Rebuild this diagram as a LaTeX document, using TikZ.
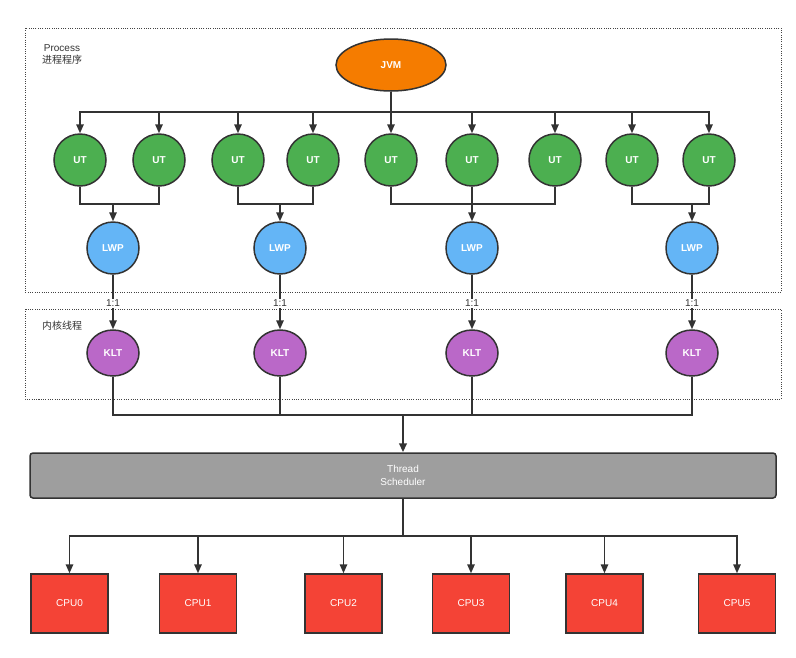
\documentclass[tikz,border=0pt]{standalone}
\usepackage{fontspec}
\setmainfont{Liberation Sans}
\newfontfamily\cjk{Noto Sans CJK SC}
\usetikzlibrary{shapes.geometric,arrows.meta}
\definecolor{ln}{HTML}{333333}
\definecolor{utgreen}{HTML}{4CAF50}
\definecolor{lwpblue}{HTML}{64B5F6}
\definecolor{kltpurple}{HTML}{BA68C8}
\definecolor{jvmorange}{HTML}{F57C00}
\definecolor{cpured}{HTML}{F44336}
\definecolor{schedgray}{HTML}{9E9E9E}
\definecolor{boxline}{HTML}{444444}
\begin{document}
\begin{tikzpicture}[x=1pt,y=-1pt,
  nodefont/.style={font=\bfseries\fontsize{10}{12}\selectfont},
  utnode/.style={circle, draw=ln, line width=1.5pt, fill=utgreen, minimum size=52pt, inner sep=0pt, text=white, nodefont},
  lwpnode/.style={circle, draw=ln, line width=1.5pt, fill=lwpblue, minimum size=52pt, inner sep=0pt, text=white, nodefont},
  kltnode/.style={ellipse, draw=ln, line width=1.5pt, fill=kltpurple, minimum width=52pt, minimum height=46pt, inner sep=0pt, text=white, nodefont},
  jvmnode/.style={ellipse, draw=ln, line width=1.5pt, fill=jvmorange, minimum width=110pt, minimum height=52pt, inner sep=0pt, text=white, nodefont},
  cpunode/.style={rectangle, draw=ln, line width=1.5pt, fill=cpured, minimum width=77pt, minimum height=59pt, inner sep=0pt, text=white, font=\fontsize{10}{12}\selectfont},
  schednode/.style={rectangle, rounded corners=3pt, draw=ln, line width=1.5pt, fill=schedgray, minimum width=746pt, minimum height=45pt, inner sep=0pt, text=white, align=center, font=\fontsize{10}{13}\selectfont},
  regionbox/.style={draw=boxline, line width=1pt, dash pattern=on 1pt off 1.3pt},
  wire/.style={draw=ln, line width=1.5pt},
  buswire/.style={draw=ln, line width=2.5pt},
  arr/.style={draw=ln, line width=1.5pt, -{Triangle[length=9pt,width=7.5pt]}},
  busarr/.style={draw=ln, line width=2.5pt, -{Triangle[length=9pt,width=7.5pt]}},
  ratio/.style={fill=white, inner sep=1pt, text=ln, font=\fontsize{10}{11}\selectfont},
  caption/.style={text=ln, align=center, inner sep=0pt}
]
\useasboundingbox[fill=white] (0,0) rectangle (796,657);

% region boxes
\draw[regionbox] (25,28) rectangle (781,292);
\draw[regionbox] (25,309) rectangle (781,399);
\node[caption, font=\fontsize{10}{12}\selectfont] (proclabel) at (62,54) {Process\\{\cjk 进程程序}};
\node[caption, font=\cjk\fontsize{10}{11}\selectfont] (kernlabel) at (62,326) {内核线程};

% nodes
\node[jvmnode] (jvm) at (391,65) {JVM};
\node[utnode] (ut1) at (80,160) {UT};
\node[utnode] (ut2) at (159,160) {UT};
\node[utnode] (ut3) at (238,160) {UT};
\node[utnode] (ut4) at (313,160) {UT};
\node[utnode] (ut5) at (391,160) {UT};
\node[utnode] (ut6) at (472,160) {UT};
\node[utnode] (ut7) at (555,160) {UT};
\node[utnode] (ut8) at (632,160) {UT};
\node[utnode] (ut9) at (709,160) {UT};

\node[lwpnode] (lwp1) at (113,248) {LWP};
\node[lwpnode] (lwp2) at (280,248) {LWP};
\node[lwpnode] (lwp3) at (472,248) {LWP};
\node[lwpnode] (lwp4) at (692,248) {LWP};

\node[kltnode] (klt1) at (113,353) {KLT};
\node[kltnode] (klt2) at (280,353) {KLT};
\node[kltnode] (klt3) at (472,353) {KLT};
\node[kltnode] (klt4) at (692,353) {KLT};

\node[schednode] (sched) at (403,475.5) {Thread\\Scheduler};

\node[cpunode] (cpu0) at (69.5,603.5) {CPU0};
\node[cpunode] (cpu1) at (198,603.5) {CPU1};
\node[cpunode] (cpu2) at (343.5,603.5) {CPU2};
\node[cpunode] (cpu3) at (471,603.5) {CPU3};
\node[cpunode] (cpu4) at (604.5,603.5) {CPU4};
\node[cpunode] (cpu5) at (737,603.5) {CPU5};

% JVM -> UT
\coordinate (jbus) at (391,112);
\draw[buswire] (jvm.south) -- (jbus);
\foreach \k in {1,...,9} { \draw[arr] (jbus) -| (ut\k); }

% UT -> LWP
\coordinate (j1) at (113,204);
\coordinate (j2) at (280,204);
\coordinate (j3) at (472,204);
\coordinate (j4) at (692,204);
\draw[wire] (ut1) |- (j1) -| (ut2);
\draw[arr] (j1) -- (lwp1);
\draw[wire] (ut3) |- (j2) -| (ut4);
\draw[arr] (j2) -- (lwp2);
\draw[wire] (ut5) |- (j3) -| (ut7);
\draw[arr] (ut6) -- (lwp3);
\draw[wire] (ut8) |- (j4) -| (ut9);
\draw[arr] (j4) -- (lwp4);

% LWP -> KLT
\foreach \k in {1,...,4} { \draw[arr] (lwp\k) -- node[ratio, pos=0.52] {1:1} (klt\k); }

% KLT -> scheduler
\coordinate (kbus) at (403,415);
\foreach \k in {1,...,4} { \draw[wire] (klt\k) |- (kbus); }
\draw[busarr] (kbus) -- (sched);

% scheduler -> CPUs
\coordinate (cbus) at (403,536);
\draw[buswire] (sched) -- (cbus);
\foreach \k in {0,...,5} { \draw[arr] (cbus) -| (cpu\k); }
\end{tikzpicture}
\end{document}
